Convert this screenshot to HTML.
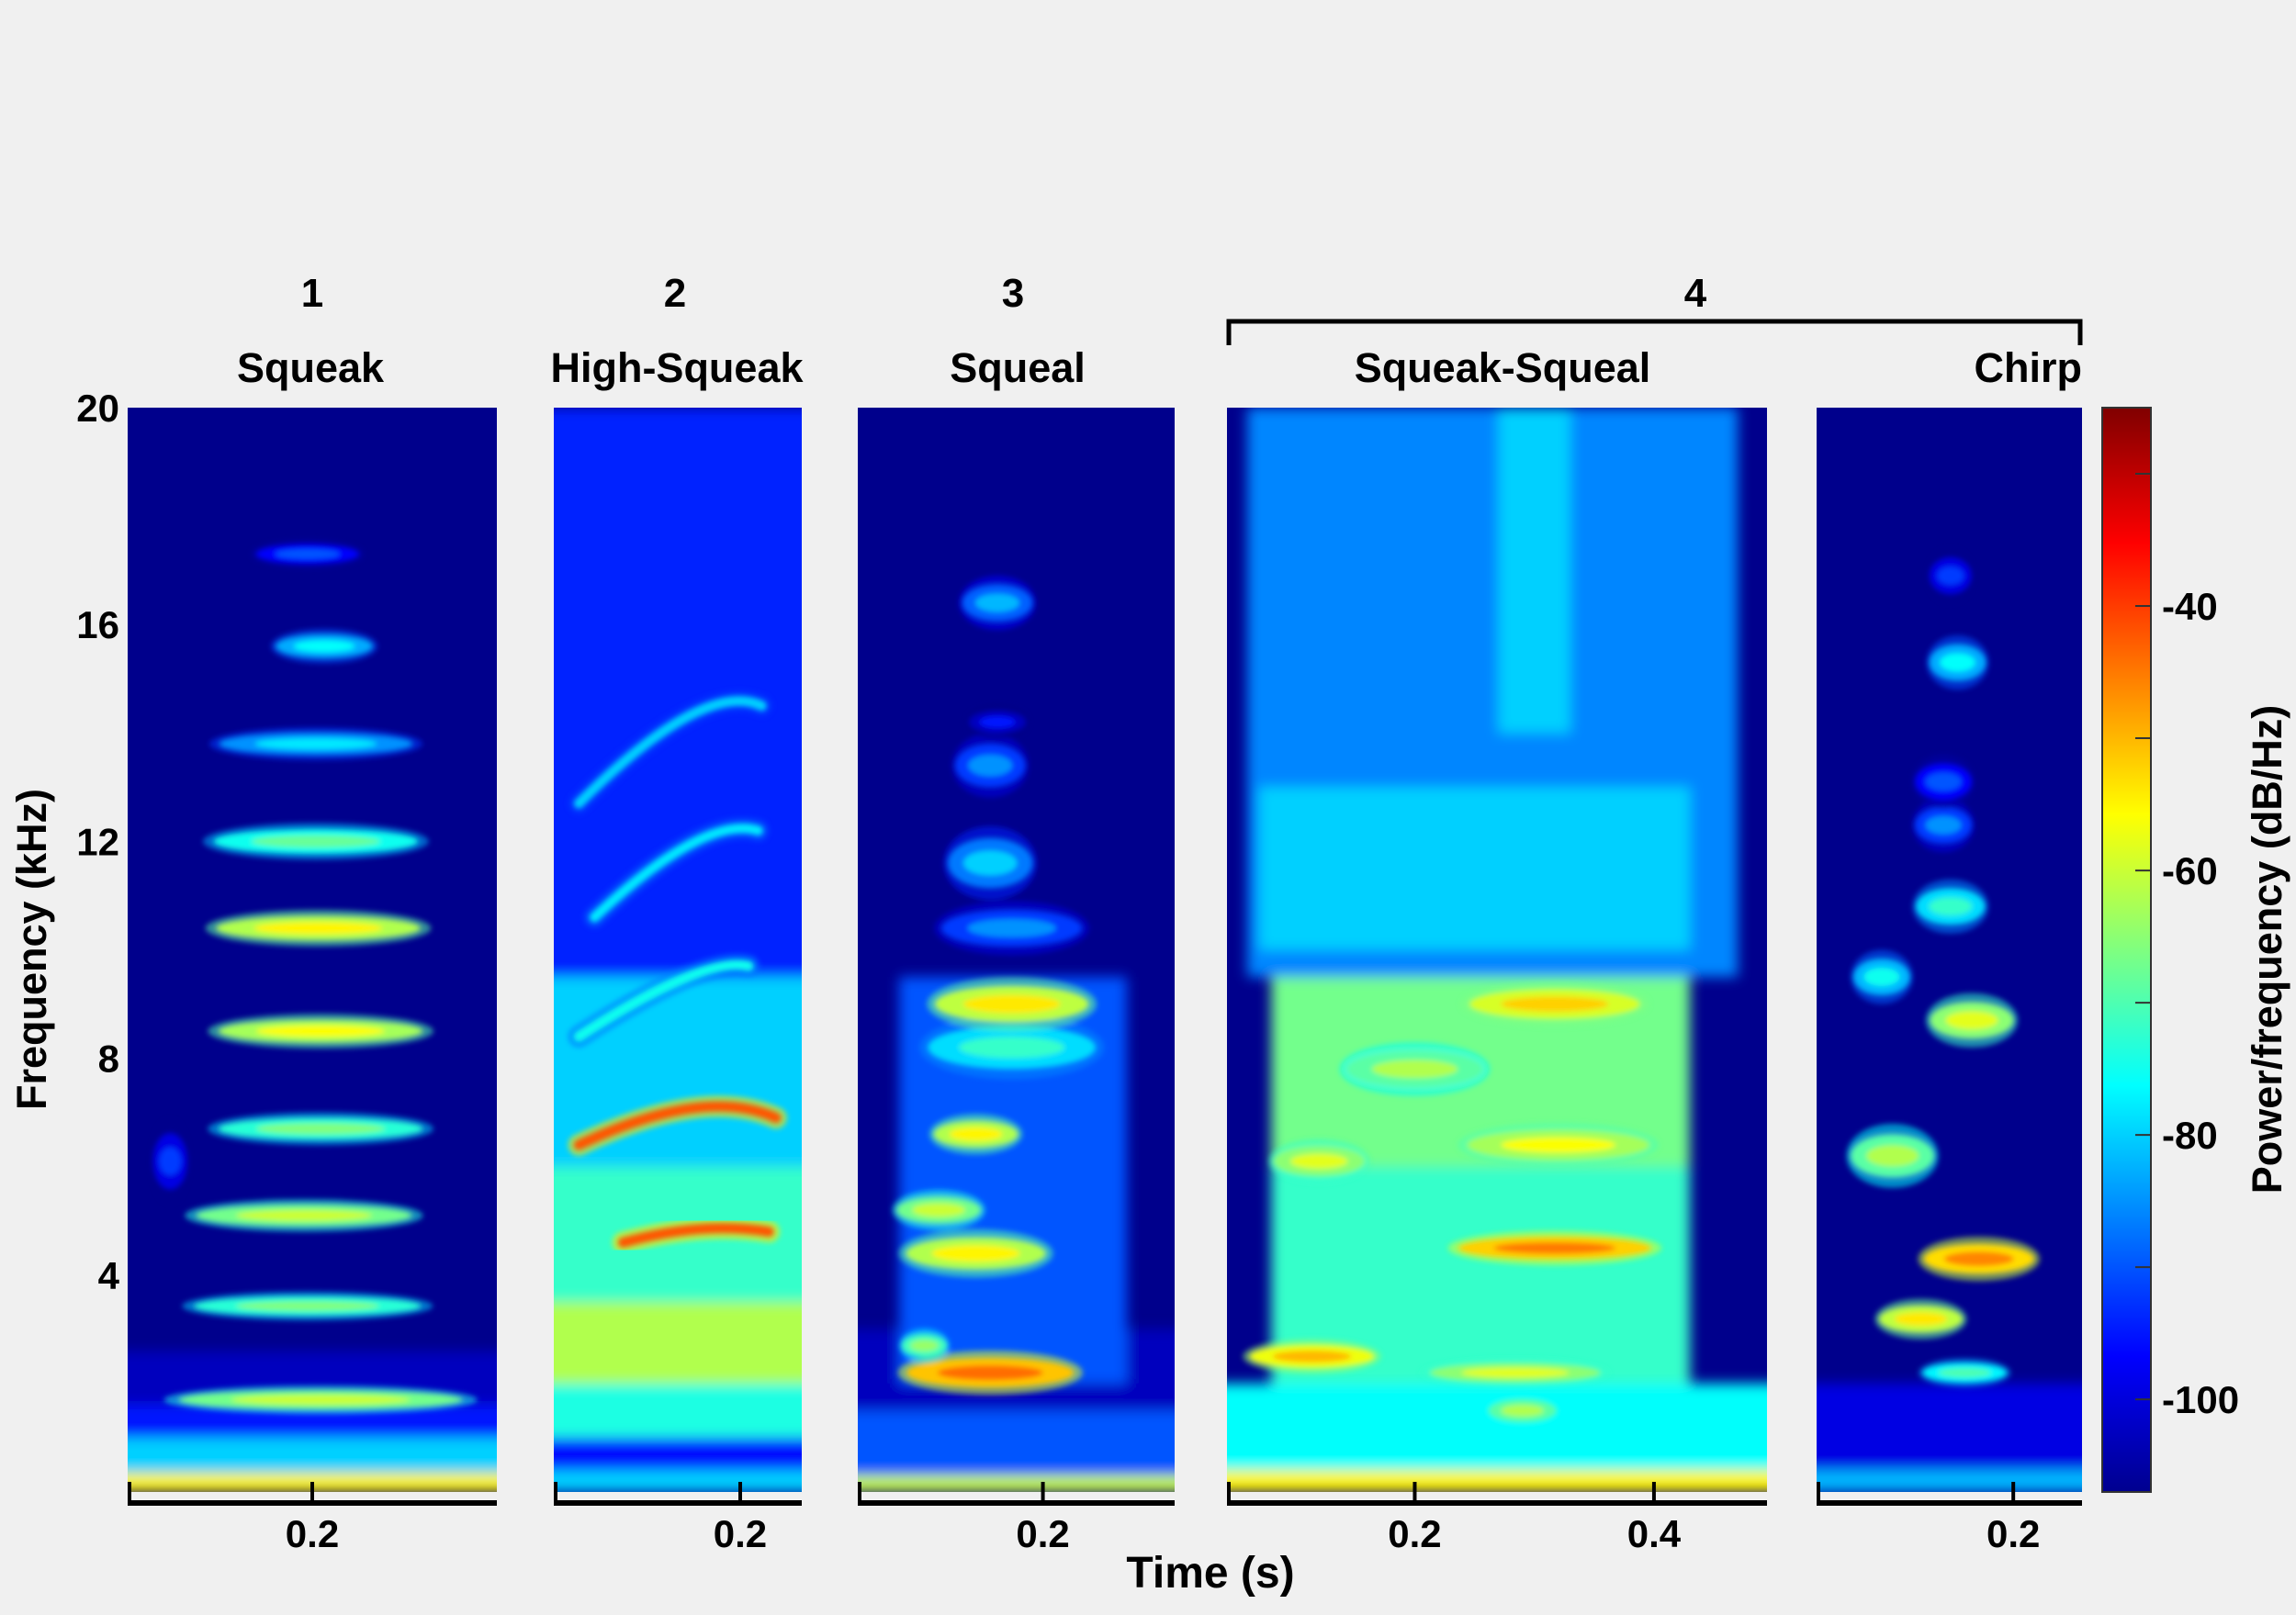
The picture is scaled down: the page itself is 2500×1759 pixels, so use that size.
<!DOCTYPE html>
<html><head><meta charset="utf-8"><style>
html,body{margin:0;padding:0;background:#f0f0f0;}
svg{display:block;font-family:"Liberation Sans",Arial,sans-serif;font-weight:bold;}
</style></head><body>
<svg id="chart" width="2500" height="1759" viewBox="0 0 2500 1759" xmlns="http://www.w3.org/2000/svg">
<defs>
<filter id="blur" x="-50%" y="-50%" width="200%" height="200%"><feGaussianBlur stdDeviation="7"/></filter>
<filter id="blurS" x="-50%" y="-50%" width="200%" height="200%"><feGaussianBlur stdDeviation="3"/></filter>
<linearGradient id="jet" x1="0" y1="1" x2="0" y2="0">
<stop offset="0" stop-color="#00008f"/><stop offset="0.125" stop-color="#0000ff"/><stop offset="0.375" stop-color="#00ffff"/><stop offset="0.625" stop-color="#ffff00"/><stop offset="0.875" stop-color="#ff0000"/><stop offset="1" stop-color="#800000"/>
</linearGradient>
</defs>
<g id="panels"></g>
<g id="labels">
<text x="340" y="334" font-size="44" text-anchor="middle">1</text>
<text x="735" y="334" font-size="44" text-anchor="middle">2</text>
<text x="1103" y="334" font-size="44" text-anchor="middle">3</text>
<text x="1846" y="334" font-size="44" text-anchor="middle">4</text>
<path d="M1338,376 V350 H2265 V376" fill="none" stroke="#000" stroke-width="5"/>
<text x="338" y="416" font-size="45" text-anchor="middle">Squeak</text>
<text x="737" y="416" font-size="45" text-anchor="middle">High-Squeak</text>
<text x="1108" y="416" font-size="45" text-anchor="middle">Squeal</text>
<text x="1636" y="416" font-size="45" text-anchor="middle">Squeak-Squeal</text>
<text x="2267" y="416" font-size="45" text-anchor="end">Chirp</text>
<text x="1318" y="1729" font-size="48" text-anchor="middle">Time (s)</text>
<text transform="translate(50,1034) rotate(-90)" font-size="45" text-anchor="middle">Frequency (kHz)</text>
<text transform="translate(2484,1034) rotate(-90)" font-size="45" text-anchor="middle">Power/frequency (dB/Hz)</text>
</g>
<g id="yaxis"></g>
<g id="colorbar"></g>
</svg>
<script>
// ---- data ----
const freqTicks = [4, 8, 12, 16, 20];
const dbTicks = [-40, -60, -80, -100];
const dbMinorTicks = [-30, -40, -50, -60, -70, -80, -90, -100];
const dbMin = -107, dbMax = -25;
const fMax = 20;
const timeTicks1 = [0.2];
const timeTicks2 = [0.2];
const timeTicks3 = [0.2];
const timeTicks4 = [0.2, 0.4];
const timeTicks5 = [0.2];
// background regions: [t0, t1, f0, f1, dB]
const regions1 = [[0,1,0,0.35,-55],[0,1,0.35,1.0,-80],[0,1,1.0,1.6,-95],[0,1,1.6,2.6,-102]];
const regions2 = [[0,1,9.5,20,-94],[0,1,6,9.5,-80],[0,1,3.5,6,-72],[0,1,2,3.5,-62],[0,1,1,2,-74],[0,1,0.4,1,-96],[0,1,0,0.4,-80]];
const regions3 = [[0,1,0,0.3,-60],[0,1,0.3,1.5,-90],[0,1,1.5,3,-102],[0.08,0.27,2,9.5,-90]];
const regions4 = [[0,1,0,0.4,-55],[0,1,0.4,2,-76],[0.06,0.47,9.5,20,-86],[0.08,0.43,2,6,-72],[0.08,0.43,6,9.5,-67],[0.27,0.33,14,20,-80],[0.07,0.43,10,13,-80]];
const regions5 = [[0,1,0,0.4,-82],[0,1,0.4,2,-99]];
// blobs: [t, f(kHz), width(s), height(kHz), dB]
const blobs1 = [[0.207,1.7,0.25,0.12,-60],[0.196,3.43,0.2,0.12,-66],[0.193,5.1,0.19,0.14,-60],[0.207,6.7,0.18,0.14,-66],[0.207,8.5,0.18,0.15,-56],[0.205,10.4,0.18,0.16,-55],[0.203,12.0,0.18,0.16,-68],[0.203,13.8,0.17,0.14,-78],[0.21,15.6,0.085,0.15,-76],[0.196,17.3,0.09,0.12,-90],[0.081,6.1,0.03,0.4,-92]];
const blobs2 = [];
const blobs3 = [[0.156,2.2,0.147,0.2,-44],[0.101,2.7,0.04,0.15,-64],[0.144,4.4,0.123,0.22,-55],[0.113,5.2,0.074,0.18,-60],[0.144,6.6,0.074,0.18,-55],[0.174,8.2,0.147,0.3,-72],[0.174,9.0,0.135,0.25,-54],[0.174,10.4,0.123,0.25,-85],[0.156,11.6,0.074,0.35,-80],[0.156,13.4,0.061,0.3,-85],[0.162,16.4,0.061,0.25,-82],[0.162,14.2,0.05,0.15,-95]];
const blobs4 = [[0.317,4.5,0.17,0.15,-45],[0.114,2.5,0.11,0.15,-50],[0.284,2.2,0.15,0.12,-58],[0.317,9.0,0.15,0.2,-52],[0.32,6.4,0.16,0.2,-56],[0.29,1.5,0.06,0.15,-62],[0.12,6.1,0.08,0.2,-58],[0.2,7.8,0.12,0.25,-62]];
const blobs5 = [[0.171,4.3,0.098,0.2,-46],[0.122,3.19,0.074,0.18,-54],[0.159,2.2,0.074,0.12,-70],[0.098,6.2,0.074,0.3,-62],[0.165,8.7,0.074,0.25,-58],[0.089,9.5,0.05,0.25,-75],[0.147,10.8,0.061,0.25,-72],[0.141,12.3,0.05,0.25,-85],[0.153,15.3,0.05,0.25,-76],[0.147,16.9,0.037,0.25,-92],[0.141,13.1,0.05,0.25,-90]];
// arcs (harmonic sweeps): points [t, f], dB
const arcPts1 = [[0.102,4.6],[0.169,5.0],[0.224,4.8]];
const arcPts2 = [[0.065,6.4],[0.170,7.5],[0.230,6.9]];
const arcPts3 = [[0.065,8.4],[0.170,9.9],[0.207,9.7]];
const arcPts4 = [[0.078,10.6],[0.170,12.5],[0.215,12.2]];
const arcPts5 = [[0.065,12.7],[0.170,15.0],[0.218,14.5]];
const arcDb = [-42, -42, -75, -78, -80];

// ---- layout ----
const plotTop = 444, plotBottom = 1625;
const panels = [
 {name:'squeak', l:139, r:541, t0:0.0454, t1:0.3546, ticks:timeTicks1, regions:regions1, blobs:blobs1, arcs:[]},
 {name:'high-squeak', l:603, r:873, t0:0.044, t1:0.2515, ticks:timeTicks2, regions:regions2, blobs:blobs2, arcs:[arcPts1,arcPts2,arcPts3,arcPts4,arcPts5]},
 {name:'squeal', l:934, r:1279, t0:0.0454, t1:0.310, ticks:timeTicks3, regions:regions3, blobs:blobs3, arcs:[]},
 {name:'squeak-squeal', l:1336, r:1924, t0:0.043, t1:0.4945, ticks:timeTicks4, regions:regions4, blobs:blobs4, arcs:[]},
 {name:'chirp', l:1978, r:2267, t0:0.034, t1:0.258, ticks:timeTicks5, regions:regions5, blobs:blobs5, arcs:[]}
];
const NS = 'http://www.w3.org/2000/svg';
function mk(tag, attrs, parent){const e=document.createElementNS(NS,tag);for(const k in attrs)e.setAttribute(k,attrs[k]);if(parent)parent.appendChild(e);return e;}
function yOf(f){return plotBottom - f/fMax*(plotBottom-plotTop);}
function jet(db){let v=(db-dbMin)/(dbMax-dbMin);v=Math.max(0,Math.min(1,v));
 const c=x=>Math.round(255*Math.max(0,Math.min(1,x)));
 return `rgb(${c(1.5-Math.abs(4*v-3))},${c(1.5-Math.abs(4*v-2))},${c(1.5-Math.abs(4*v-1))})`;}
function cbY(db){return plotTop + (dbMax-db)/(dbMax-dbMin)*(plotBottom-plotTop);}

const gP = document.getElementById('panels');
panels.forEach((p,i)=>{
 const xOf = t => p.l + (t-p.t0)/(p.t1-p.t0)*(p.r-p.l);
 const g = mk('g',{},gP);
 
 
 const cp = mk('clipPath',{id:'cp'+i},g);
 mk('rect',{x:p.l,y:plotTop,width:p.r-p.l,height:plotBottom-plotTop},cp);
 const inner = mk('g',{'clip-path':`url(#cp${i})`},g);
 mk('rect',{x:p.l,y:plotTop,width:p.r-p.l,height:plotBottom-plotTop,fill:jet(-106)},inner);
 const rg = mk('g',{filter:'url(#blur)'},inner);
 p.regions.forEach(r=>{
  const x0 = r[0]<=0?p.l-20:xOf(r[0]), x1 = r[1]>=1?p.r+20:xOf(r[1]);
  const rc = mk('rect',{x:x0,y:yOf(r[3]),width:x1-x0,height:yOf(r[2])-yOf(r[3]),fill:jet(r[4])},rg);
  
  
 });
 const bg = mk('g',{filter:'url(#blurS)'},inner);
 p.blobs.forEach(b=>{
  const cx=xOf(b[0]), cy=yOf(b[1]), rx=b[2]/2*(p.r-p.l)/(p.t1-p.t0), ry=b[3]*(plotBottom-plotTop)/fMax;
  const o = mk('ellipse',{cx:cx,cy:cy,rx:rx*1.05,ry:ry*1.8+3,fill:jet(b[4]-14),opacity:0.55},bg);
  
  
  const m = mk('ellipse',{cx:cx,cy:cy,rx:rx*0.95,ry:ry*1.2+2,fill:jet(b[4]-7)},bg);
  
  
  const c = mk('ellipse',{cx:cx,cy:cy,rx:rx*0.6,ry:ry*0.6+1,fill:jet(b[4])},bg);
  
  
 });
 p.arcs.forEach((pts,k)=>{
  const path = pts.map((q,j)=>(j===0?'M':(j===1?'Q':''))+xOf(q[0])+','+yOf(q[1])).join(' ');
  const h = mk('path',{d:path,fill:'none',stroke:jet(arcDb[k]-12),'stroke-width':24,'stroke-linecap':'round',opacity:0.6,filter:'url(#blurS)'},inner);
  
  
  const a = mk('path',{d:path,fill:'none',stroke:jet(arcDb[k]),'stroke-width':11,'stroke-linecap':'round',filter:'url(#blurS)'},inner);
  
  
 });
 // time axis
 const ax = mk('g',{},g);
 
 
 mk('line',{x1:p.l,y1:1637,x2:p.r,y2:1637,stroke:'#000','stroke-width':6},ax);
 mk('line',{x1:p.l+2,y1:1614,x2:p.l+2,y2:1637,stroke:'#000','stroke-width':4},ax);
 p.ticks.forEach(t=>{
  const x=xOf(t);
  const tk = mk('line',{x1:x,y1:1614,x2:x,y2:1637,stroke:'#000','stroke-width':4},ax);
  
  
  const tl = mk('text',{x:x,y:1685,'font-size':42,'text-anchor':'middle'},ax);
  tl.textContent = t.toFixed(1);
  
  
 });
});
// y axis labels
const gy = document.getElementById('yaxis');
freqTicks.forEach(f=>{
 const t = mk('text',{x:130,y:yOf(f)+15,'font-size':42,'text-anchor':'end'},gy);
 t.textContent = f;
 
 
});
// colorbar
const gc = document.getElementById('colorbar');
const cb = mk('rect',{x:2289,y:plotTop,width:53,height:plotBottom-plotTop,fill:'url(#jet)',stroke:'#333','stroke-width':2},gc);


dbMinorTicks.forEach(d=>{
 const l = mk('line',{x1:2325,y1:cbY(d),x2:2342,y2:cbY(d),stroke:'#333','stroke-width':2},gc);
 
 
});
dbTicks.forEach(d=>{
 const t = mk('text',{x:2354,y:cbY(d)+15,'font-size':42},gc);
 t.textContent = d;
 
 
});
</script>
</body></html>
